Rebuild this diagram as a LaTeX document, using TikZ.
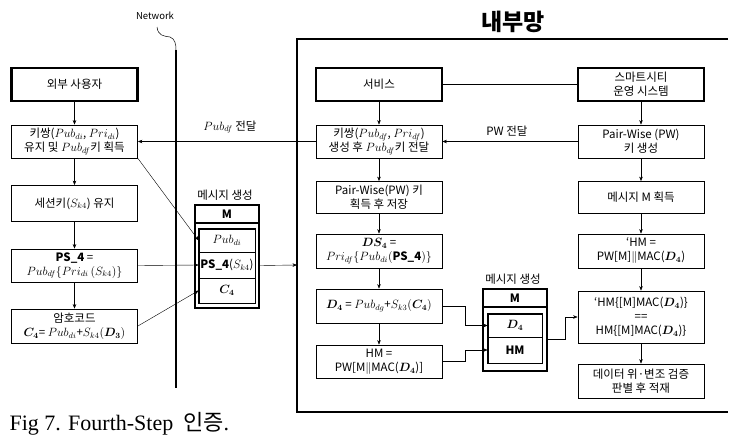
\documentclass[tikz,border=0pt]{standalone}
\usepackage{amsmath,bm}
\usepackage{fontspec}
\setmainfont{Noto Sans CJK KR}
\newfontfamily\capfont{Liberation Serif}
\usetikzlibrary{arrows.meta}
\begin{document}
\begin{tikzpicture}[x=1pt,y=-1pt,>={Stealth[length=4.5pt,width=3.5pt]},
    font=\fontsize{11.5}{14}\selectfont,
    box/.style={draw,line width=0.8pt,minimum width=126pt,minimum height=33pt,align=center,inner sep=1pt},
    bigbox/.style={box,line width=2.4pt},
    cell/.style={draw,line width=0.6pt,minimum width=56pt,inner sep=0pt,align=center},
    frame/.style={draw,line width=1.6pt,minimum width=64pt,inner sep=0pt}]
    \useasboundingbox (0,0) rectangle (748,445);

    % Network line
    \draw[line width=1.8pt] (176,50) -- (176,388);
    \draw[line width=0.5pt] (157,27) .. controls (158,36) and (164,36) .. (170,37) .. controls (175,39) and (176,44) .. (176,50);
    \node[font=\fontsize{9.5}{11}\selectfont] (net) at (155,16) {Network};

    % Internal network
    \draw[line width=1.6pt] (728,39) -- (297,39) -- (297,412) -- (728,412);
    \coordinate (inl) at (297,265);
    \node[font=\fontsize{23}{25}\selectfont\bfseries] (inner) at (513,22) {내부망};

    % Left column
    \node[bigbox] (ext) at (74.5,84.5) {외부 사용자};
    \node[box] (lkey) at (74.5,141.5) {키쌍($Pub_{di}$, $Pri_{di}$)\\유지 및 $Pub_{df}$키 획득};
    \node[box,minimum height=36pt] (sess) at (74.5,203.5) {세션키($S_{k4}$) 유지};
    \node[box] (ps) at (74.5,265.5) {\textbf{PS\_4} =\\$Pub_{df}\{Pri_{di}\,(S_{k4})\}$};
    \node[box,minimum height=34pt] (enc) at (74.5,326) {암호코드\\$\bm{C_4}$= $Pub_{di}$+$S_{k4}(\bm{D_3})$};

    % Left message
    \node (lmsg) at (225,195) {메시지 생성};
    \node[frame,minimum height=18pt] (lm) at (227,214) {\textbf{M}};
    \node[frame,minimum height=85pt] (lmbox) at (227,265.5) {};
    \node[cell,minimum height=23pt] (lp) at (227,240.5) {$Pub_{di}$};
    \node[cell,minimum height=26pt] (ls) at (227,265) {\textbf{PS\_4}($S_{k4}$)};
    \node[cell,minimum height=25pt] (lc) at (227,290.5) {$\bm{C_4}$};
    \draw[line width=1.6pt] (lp.north west) rectangle (lc.south east);

    % Middle column
    \node[bigbox] (svc) at (379,84.5) {서비스};
    \node[box] (mkey) at (379,141.5) {키쌍($Pub_{df}$, $Pri_{df}$)\\생성 후 $Pub_{df}$키 전달};
    \node[box,minimum height=32pt] (pw) at (379,197.5) {Pair-Wise(PW) 키\\획득 후 저장};
    \node[box,minimum height=34pt] (ds) at (379,251) {$\bm{DS_4}$ =\\$Pri_{df}\{Pub_{di}($\textbf{PS\_4}$)\}$};
    \node[box,minimum height=34pt] (d4) at (379,306) {$\bm{D_4}$ = $Pub_{dg}$+$S_{k3}(\bm{C_4})$};
    \node[box] (hm) at (379,361.5) {HM =\\PW[M$\|$MAC($\bm{D_4}$)]};

    % Right message
    \node (rmsg) at (513,279) {메시지 생성};
    \node[frame,minimum height=18pt] (rm) at (515,298) {\textbf{M}};
    \node[frame,minimum height=64pt] (rmbox) at (515,339) {};
    \node[cell,minimum width=54pt,minimum height=23pt] (rd) at (515,325.5) {$\bm{D_4}$};
    \node[cell,minimum width=54pt,minimum height=26pt] (rh) at (515,350) {\textbf{HM}};
    \draw[line width=1.6pt] (rd.north west) rectangle (rh.south east);

    % Right column
    \node[bigbox] (city) at (641,84.5) {스마트시티\\운영 시스템};
    \node[box] (pwgen) at (641,141.5) {Pair-Wise (PW)\\키 생성};
    \node[box,minimum height=32pt] (getm) at (641,197.5) {메시지 M 획득};
    \node[box,minimum height=34pt] (hmp) at (641,251) {‘HM =\\PW[M]$\|$MAC($\bm{D_4}$)};
    \node[box,minimum height=52pt] (cmp) at (641,317) {‘HM\{[M]MAC($\bm{D_4}$)\}\\==\\HM\{[M]MAC($\bm{D_4}$)\}};
    \node[box,minimum height=34pt] (store) at (641,381) {데이터 위·변조 검증\\판별 후 적재};

    % Arrows
    \draw[->] (ext) -- (lkey);
    \draw[->] (lkey) -- (sess);
    \draw[->] (sess) -- (ps);
    \draw[->] (ps) -- (enc);
    \draw[->] (lkey.south east) -- (lp.west);
    \draw[->] (ps.east) -- (ls.west);
    \draw[->] (enc.east) -- (lc.west);
    \draw[->] (lmbox.east) -- (inl);

    \draw[->] (svc) -- (mkey);
    \draw[->] (mkey) -- (pw);
    \draw[->] (pw) -- (ds);
    \draw[->] (ds) -- (d4);
    \draw[->] (d4) -- (hm);
    \draw[->] (d4.east) -- ++(23,0) |- (rd.west);
    \draw[->] (hm.east) -- ++(23,0) |- (rh.west);
    \draw[->] (rmbox.east) -- ++(17,0) |- (cmp.west);

    \draw[->] (city) -- (pwgen);
    \draw[->] (pwgen) -- (getm);
    \draw[->] (getm) -- (hmp);
    \draw[->] (hmp) -- (cmp);
    \draw[->] (cmp) -- (store);

    % Transfers
    \draw (svc.east) -- (city.west);
    \draw[->] (mkey.west) -- (lkey.east);
    \node (pubt) at (230,127) {$Pub_{df}$ 전달};
    \draw[->] (pwgen.west) -- (mkey.east);
    \node (pwt) at (507,131) {PW 전달};

    % Caption
    \node[anchor=west,font=\fontsize{22}{24}\selectfont] (cap) at (6,424) {{\capfont Fig 7. Fourth-Step}\ \ 인증{\capfont .}};
\end{tikzpicture}
\end{document}
